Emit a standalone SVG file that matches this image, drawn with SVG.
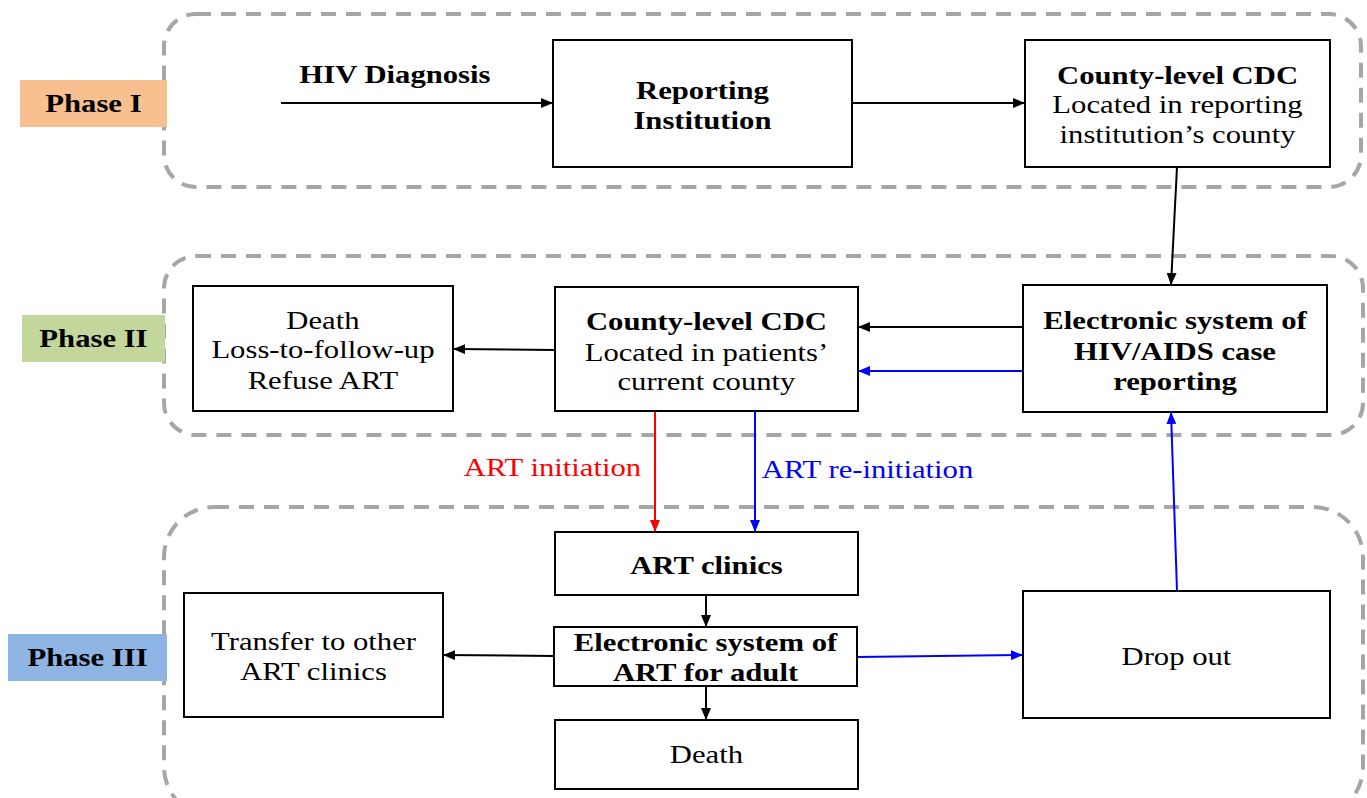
<svg xmlns="http://www.w3.org/2000/svg" width="1367" height="798" viewBox="0 0 1367 798">
<style>
.phase{fill:none;stroke:#A6A6A6;stroke-width:4;stroke-dasharray:15 10}
.box{fill:#fff;stroke:#000;stroke-width:2}
.t{font-family:"Liberation Serif","Times New Roman",serif;font-size:26px;text-anchor:middle;fill:#000}
.b{font-weight:bold}
.k{stroke:#000;stroke-width:2;fill:none}
.bl{stroke:#0000FF;stroke-width:2;fill:none}
.rd{stroke:#FF0000;stroke-width:2;fill:none}
</style>
<defs>
<marker id="ak" viewBox="0 0 12 10" refX="12" refY="5" markerWidth="12" markerHeight="10" markerUnits="userSpaceOnUse" orient="auto"><path d="M0,0 L12,5 L0,10 Z" fill="#000"/></marker>
<marker id="ab" viewBox="0 0 12 10" refX="12" refY="5" markerWidth="12" markerHeight="10" markerUnits="userSpaceOnUse" orient="auto"><path d="M0,0 L12,5 L0,10 Z" fill="#0000FF"/></marker>
<marker id="ar" viewBox="0 0 12 10" refX="12" refY="5" markerWidth="12" markerHeight="10" markerUnits="userSpaceOnUse" orient="auto"><path d="M0,0 L12,5 L0,10 Z" fill="#FF0000"/></marker>
</defs>
<rect width="1367" height="798" fill="#fff"/>
<g id="containers">
<rect class="phase" x="164" y="14" width="1197" height="173" rx="32"/>
<rect class="phase" x="164" y="256" width="1199" height="179" rx="32"/>
<rect class="phase" x="164" y="507" width="1199" height="310" rx="50"/>
</g>
<g id="phase-labels">
<g id="phase1"><rect x="20" y="80" width="147" height="47" fill="#F8BF8F"/><text class="t b" x="79.2" y="112" transform="scale(1.18,1)">Phase I</text></g>
<g id="phase2"><rect x="22" y="315" width="143" height="47" fill="#C3D69B"/><text class="t b" x="79.2" y="347" transform="scale(1.18,1)">Phase II</text></g>
<g id="phase3"><rect x="8" y="634" width="159" height="47" fill="#8EB4E3"/><text class="t b" x="74.2" y="666" transform="scale(1.18,1)">Phase III</text></g>
</g>
<g id="connectors">
<line class="k" x1="281" y1="103" x2="553" y2="103" marker-end="url(#ak)"/>
<line class="k" x1="852" y1="103" x2="1025" y2="103" marker-end="url(#ak)"/>
<line class="k" x1="1177" y1="167" x2="1171" y2="285" marker-end="url(#ak)"/>
<line class="k" x1="1023" y1="327" x2="858" y2="327" marker-end="url(#ak)"/>
<line class="bl" x1="1023" y1="371" x2="858" y2="371" marker-end="url(#ab)"/>
<line class="k" x1="555" y1="350" x2="453" y2="349" marker-end="url(#ak)"/>
<line class="rd" x1="655" y1="411" x2="655" y2="532" marker-end="url(#ar)"/>
<line class="bl" x1="755" y1="411" x2="755" y2="532" marker-end="url(#ab)"/>
<line class="k" x1="706" y1="595" x2="706" y2="627" marker-end="url(#ak)"/>
<line class="k" x1="706" y1="686" x2="706" y2="720" marker-end="url(#ak)"/>
<line class="k" x1="554" y1="656" x2="443" y2="655" marker-end="url(#ak)"/>
<line class="bl" x1="857" y1="657" x2="1023" y2="655" marker-end="url(#ab)"/>
<line class="bl" x1="1177" y1="591" x2="1171" y2="412" marker-end="url(#ab)"/>
<text class="t b" x="334.7" y="83" transform="scale(1.18,1)">HIV Diagnosis</text>
<text class="t" x="468.2" y="476" transform="scale(1.18,1)" style="fill:#FF0000">ART initiation</text>
<text class="t" x="735.2" y="478" transform="scale(1.18,1)" style="fill:#0000FF">ART re-initiation</text>
</g>
<g id="reporting-institution">
<rect class="box" x="553" y="40" width="299" height="127"/>
<text class="t b" x="595.3" y="99" transform="scale(1.18,1)">Reporting</text>
<text class="t b" x="595.3" y="129" transform="scale(1.18,1)">Institution</text>
</g>
<g id="county-cdc-1">
<rect class="box" x="1025" y="40" width="305" height="127"/>
<text class="t b" x="997.9" y="84" transform="scale(1.18,1)">County-level CDC</text>
<text class="t" x="997.9" y="113" transform="scale(1.18,1)">Located in reporting</text>
<text class="t" x="997.9" y="143" transform="scale(1.18,1)">institution’s county</text>
</g>
<g id="electronic-hiv">
<rect class="box" x="1023" y="285" width="304" height="127"/>
<text class="t b" x="995.8" y="329" transform="scale(1.18,1)">Electronic system of</text>
<text class="t b" x="995.8" y="360" transform="scale(1.18,1)">HIV/AIDS case</text>
<text class="t b" x="995.8" y="390" transform="scale(1.18,1)">reporting</text>
</g>
<g id="county-cdc-2">
<rect class="box" x="555" y="287" width="303" height="124"/>
<text class="t b" x="598.7" y="330" transform="scale(1.18,1)">County-level CDC</text>
<text class="t" x="598.7" y="361" transform="scale(1.18,1)">Located in patients’</text>
<text class="t" x="598.7" y="390" transform="scale(1.18,1)">current county</text>
</g>
<g id="death-ltfu">
<rect class="box" x="193" y="286" width="260" height="125"/>
<text class="t" x="273.7" y="329" transform="scale(1.18,1)">Death</text>
<text class="t" x="273.7" y="358" transform="scale(1.18,1)">Loss-to-follow-up</text>
<text class="t" x="273.7" y="389" transform="scale(1.18,1)">Refuse ART</text>
</g>
<g id="art-clinics">
<rect class="box" x="555" y="532" width="303" height="63"/>
<text class="t b" x="598.7" y="574" transform="scale(1.18,1)">ART clinics</text>
</g>
<g id="electronic-art">
<rect class="box" x="554" y="627" width="303" height="59"/>
<text class="t b" x="597.9" y="651" transform="scale(1.18,1)">Electronic system of</text>
<text class="t b" x="597.9" y="681" transform="scale(1.18,1)">ART for adult</text>
</g>
<g id="death">
<rect class="box" x="555" y="720" width="303" height="69"/>
<text class="t" x="598.7" y="763" transform="scale(1.18,1)">Death</text>
</g>
<g id="transfer">
<rect class="box" x="184" y="593" width="259" height="124"/>
<text class="t" x="265.7" y="650" transform="scale(1.18,1)">Transfer to other</text>
<text class="t" x="265.7" y="680" transform="scale(1.18,1)">ART clinics</text>
</g>
<g id="drop-out">
<rect class="box" x="1023" y="591" width="307" height="127"/>
<text class="t" x="997.0" y="665" transform="scale(1.18,1)">Drop out</text>
</g>
</svg>
